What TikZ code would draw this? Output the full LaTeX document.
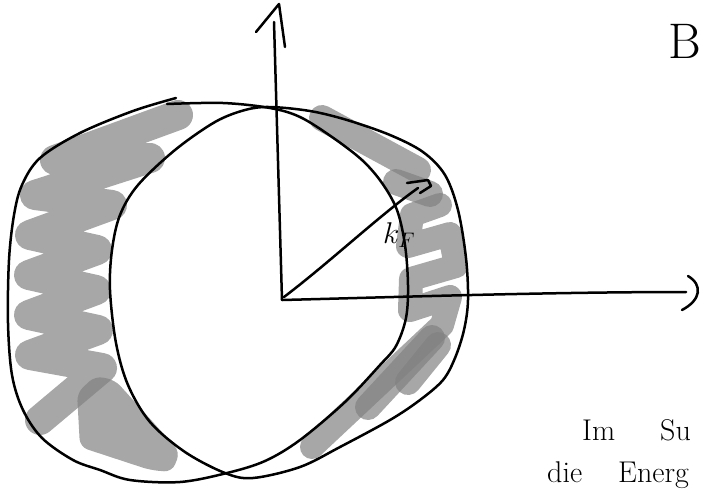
\RequirePackage{fix-cm}
\documentclass[tikz,border=0pt]{standalone}
\definecolor{grayink}{RGB}{129,129,129}
\begin{document}
\begin{tikzpicture}[x=1pt,y=-1pt,
  pen/.style={line width=2.5pt, line cap=round, line join=round, draw=black},
  marker/.style={line width=26pt, line cap=round, line join=round, draw=grayink, draw opacity=0.7},
  lbl/.style={inner sep=0pt}]
\useasboundingbox (0,0) rectangle (702,488);

% ---- gray scribbles (behind the lines) ----
% left band
\draw[marker, line width=30pt] (178,115) -- (55,160) -- (150,158) -- (35,195) -- (112,205)
  -- (30,235) -- (97,250) -- (29,275) -- (96,290) -- (29,315) -- (98,330) -- (30,355)
  -- (102,368) -- (40,420);
\fill[grayink, fill opacity=0.7, rounded corners=8pt] (77,393) -- (95,376) -- (115,380)
  -- (180,452) -- (172,472) -- (150,470) -- (80,447) -- cycle;
% right band
\draw[marker] (322,118) -- (418,170);
\draw[marker] (396,182) -- (430,194);
\draw[marker, line width=24pt] (440,205) -- (412,215) -- (408,246) -- (450,234) -- (456,266)
  -- (411,279) -- (410,310) -- (450,297) -- (442,325) -- (312,447);
\draw[marker] (432,338) -- (368,407);
\draw[marker] (438,345) -- (408,382);

% ---- the two displaced spheres ----
\draw[pen] plot[smooth cycle, tension=0.55] coordinates {
  (270,107) (310,111) (347,120) (390,135) (423,152) (445,175) (458,210) (466,258)
  (468,300) (464,330) (455,358) (443,380) (420,400) (390,420) (340,447) (300,467)
  (253,478) (225,473) (185,452) (150,422) (128,385) (116,343) (110,290) (112,250)
  (120,215) (138,185) (175,150) (215,122) (245,110)};
\draw[pen] plot[smooth, tension=0.55] coordinates {
  (167,104) (223,103) (270,108) (300,117) (332,137) (362,160) (382,183) (397,210)
  (405,245) (408,285) (406,318) (396,346) (380,365) (345,402) (300,440) (265,461)
  (227,473) (180,482) (130,480) (100,470) (73,460) (42,438) (23,410) (12,375) (8,323)
  (9,260) (14,215) (22,185) (40,158) (80,133) (133,111) (176,98)};

% ---- axes ----
\coordinate (O) at (282,300);
\coordinate (ytip) at (274,22);
\coordinate (xtip) at (686,292);
\coordinate (ktip) at (418,188);
\coordinate (yh1) at (256,32);
\coordinate (yh2) at (279,4);
\coordinate (yh3) at (285,47);
\coordinate (xh1) at (688,276);
\coordinate (xh2) at (682,310);
\draw[pen] (O) -- (ytip);
\draw[pen] (yh1) -- (yh2) -- (yh3);
\draw[pen] (O) .. controls (400,297) and (550,292) .. (xtip);
\draw[pen] (xh1) .. controls (703,285) and (701,300) .. (xh2);
\draw[pen] (284,297) .. controls (330,262) and (380,215) .. (ktip);
\draw[pen] (407,183) -- (428,180) -- (431,186) -- (420,193);

% ---- labels ----
\node[lbl, anchor=base west, font=\fontsize{30}{34}\selectfont] (kf) at (383,243) {$k_F$};
\node[lbl, anchor=base east, font=\fontsize{50}{56}\selectfont] (hdr) at (701,58) {B};
\node[lbl, anchor=base west, font=\fontsize{30}{36}\selectfont] (l1) at (582,440) {Im\hspace{1.5em}Su};
\node[lbl, anchor=base west, font=\fontsize{30}{36}\selectfont] (l2) at (547,482) {die\hspace{1.2em}Energ};
\end{tikzpicture}
\end{document}
